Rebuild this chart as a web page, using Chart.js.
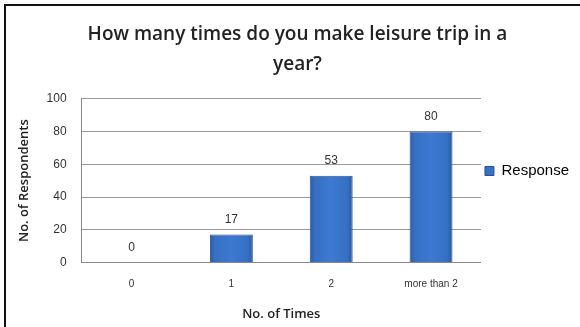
<!DOCTYPE html>
<html><head><meta charset="utf-8">
<script src="https://cdn.jsdelivr.net/npm/chart.js@4/dist/chart.umd.min.js"></script>
<style>
html,body{margin:0;padding:0;background:#fff;}
#wrap{position:absolute;left:0;top:0;width:580px;height:327px;}
#frame{position:absolute;left:4px;top:4px;width:576px;height:323px;border-top:2px solid #111;border-left:2px solid #111;box-sizing:border-box;pointer-events:none;}
canvas{position:absolute;left:0;top:0;}
</style></head>
<body>
<div id="wrap"><canvas id="c" width="580" height="327"></canvas><div id="frame"></div></div>
<script>
const categories = ['0', '1', '2', 'more than 2'];
const responseValues = [0, 17, 53, 80];
const yTicks = [0, 20, 40, 60, 80, 100];
const titleLines = ['How many times do you make leisure trip in a', 'year?'];

const BAR_PCT = 0.43;

function barFill(context) {
  const chart = context.chart;
  const area = chart.chartArea;
  const xs = chart.scales.x;
  if (!area || !xs || context.dataIndex === undefined) return '#3a6dbd';
  const cx = xs.getPixelForValue(context.dataIndex);
  const half = (xs.width / categories.length) * BAR_PCT / 2;
  const g = chart.ctx.createLinearGradient(cx - half, 0, cx + half, 0);
  g.addColorStop(0, '#2d5ba3');
  g.addColorStop(0.12, '#3670c2');
  g.addColorStop(0.5, '#3d79d2');
  g.addColorStop(0.88, '#3670c2');
  g.addColorStop(1, '#2a559a');
  return g;
}

const valueLabels = {
  id: 'valueLabels',
  afterDatasetsDraw(chart) {
    const ctx = chart.ctx;
    const meta = chart.getDatasetMeta(0);
    ctx.save();
    ctx.font = '12px "Liberation Sans", Arial, sans-serif';
    ctx.fillStyle = '#333';
    ctx.textAlign = 'center';
    ctx.textBaseline = 'bottom';
    meta.data.forEach((bar, i) => {
      ctx.fillText(String(responseValues[i]), bar.x, bar.y - 9);
    });
    ctx.restore();
  }
};

new Chart(document.getElementById('c'), {
  type: 'bar',
  data: {
    labels: categories,
    datasets: [{
      label: 'Response',
      data: responseValues,
      backgroundColor: barFill,
      borderColor: '#2a5090',
      borderWidth: 1,
      categoryPercentage: 1,
      barPercentage: BAR_PCT
    }]
  },
  options: {
    responsive: false,
    animation: false,
    layout: { padding: { left: 16, right: 1, top: 20, bottom: 5 } },
    plugins: {
      title: {
        display: true,
        text: titleLines,
        color: '#222',
        font: { family: '"Open Sans", sans-serif', size: 19, weight: '600', lineHeight: 1.55 },
        padding: { top: 0, bottom: 20 }
      },
      legend: {
        position: 'right',
        labels: {
          boxWidth: 9, boxHeight: 9,
          color: '#333',
          font: { family: '"Liberation Sans", Arial, sans-serif', size: 15 },
          padding: 4,
          generateLabels(chart) {
            return [{ text: 'Response', fillStyle: '#3670c2', strokeStyle: '#2a5090', lineWidth: 1, datasetIndex: 0, hidden: false }];
          }
        }
      },
      tooltip: { enabled: false }
    },
    scales: {
      x: {
        grid: { display: false, drawTicks: false },
        border: { display: true, color: '#888' },
        ticks: { color: '#333', font: { family: '"Liberation Sans", Arial, sans-serif', size: 10 }, padding: 16 },
        title: { display: true, text: 'No. of Times', color: '#222', font: { family: '"Open Sans", sans-serif', size: 13, weight: '600' }, padding: { top: 0, bottom: 0 } }
      },
      y: {
        min: 0, max: 100,
        afterBuildTicks(scale) { scale.ticks = yTicks.map(v => ({ value: v })); },
        grid: { color: '#999', drawTicks: false },
        border: { display: true, color: '#888' },
        ticks: { color: '#333', font: { family: '"Liberation Sans", Arial, sans-serif', size: 12 }, padding: 15 },
        title: { display: true, text: 'No. of Respondents', color: '#222', font: { family: '"Open Sans", sans-serif', size: 13, weight: '600' }, padding: { top: 0, bottom: 0 } }
      }
    }
  },
  plugins: [valueLabels]
});
</script>
</body></html>
